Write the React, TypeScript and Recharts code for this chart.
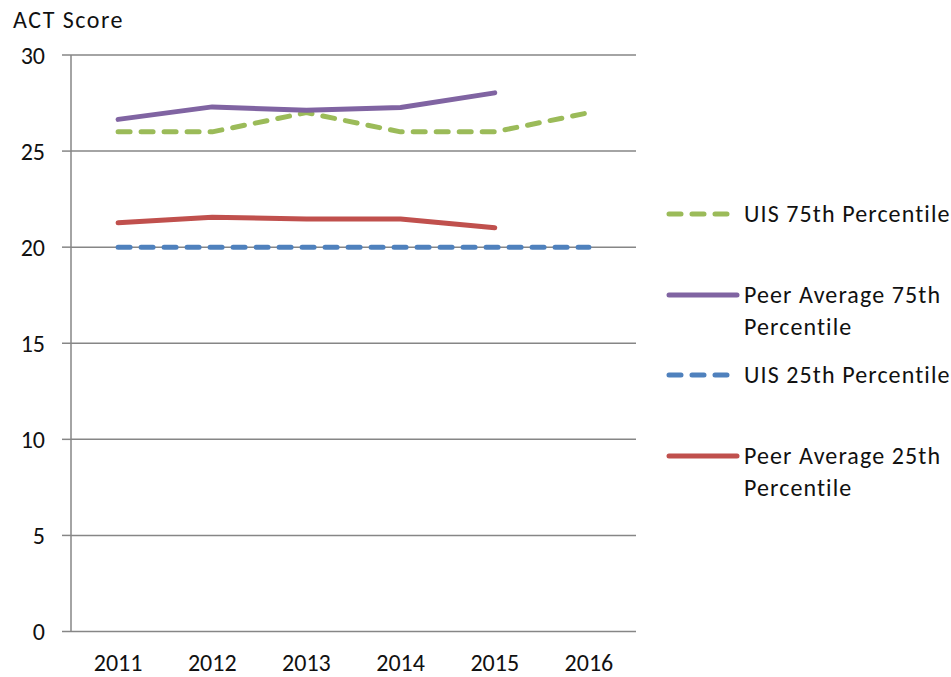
import React from 'react';
import { LineChart, Line, XAxis, YAxis, CartesianGrid } from 'recharts';

const years = ['2011', '2012', '2013', '2014', '2015', '2016'];
const uis75 = [26, 26, 27, 26, 26, 27];
const peer75 = [26.65, 27.3, 27.12, 27.27, 28.03, null];
const uis25 = [20, 20, 20, 20, 20, 20];
const peer25 = [21.27, 21.56, 21.47, 21.47, 21.01, null];
const yTicks = [0, 5, 10, 15, 20, 25, 30];
const bandEdges = [0, 1, 2, 3, 4, 5, 6];

const FONT = 'Carlito, Calibri, Lato, "Open Sans", sans-serif';
const GRID = '#868686';

const series = [
  { key: 'uis75', name: 'UIS 75th Percentile', color: '#9BBB59', dash: '12 11', lines: ['UIS 75th Percentile'] },
  { key: 'peer75', name: 'Peer Average 75th Percentile', color: '#8064A2', dash: undefined, lines: ['Peer Average 75th', 'Percentile'] },
  { key: 'uis25', name: 'UIS 25th Percentile', color: '#4F81BD', dash: '12 11', lines: ['UIS 25th Percentile'] },
  { key: 'peer25', name: 'Peer Average 25th Percentile', color: '#C0504D', dash: undefined, lines: ['Peer Average 25th', 'Percentile'] },
];

// numeric x so the tick marks can sit between the categories, like Excel does
const data = years.map((year, i) => ({
  x: i + 0.5,
  year,
  uis75: uis75[i],
  peer75: peer75[i],
  uis25: uis25[i],
  peer25: peer25[i],
}));

const tickStyle = { fontSize: 24, fill: '#111', fontFamily: FONT };

export default function App() {
  return (
    <div style={{ padding: 8, width: 935, height: 669, fontFamily: FONT }}>
      {/* drop the body margin so the legend can run out to the window edge */}
      <style>{'body { margin: 0; }'}</style>
      <div style={{ position: 'relative', width: 935, height: 669 }}>
        <div style={{ position: 'absolute', left: 5, top: 0, fontSize: 24, color: '#111', lineHeight: '24px', letterSpacing: 1.5 }}>
          ACT Score
        </div>
        <LineChart
          width={935}
          height={669}
          data={data}
          margin={{ top: 47, right: 307, bottom: 8.5, left: 0 }}
        >
          <CartesianGrid horizontal vertical={false} stroke={GRID} strokeWidth={1.5} />
          <XAxis
            xAxisId="edges"
            dataKey="x"
            type="number"
            domain={[0, 6]}
            ticks={bandEdges}
            tickFormatter={() => ''}
            stroke={GRID}
            strokeWidth={1.5}
            tickSize={8}
            height={0}
            allowDataOverflow
          />
          <XAxis
            xAxisId="labels"
            dataKey="x"
            type="number"
            domain={[0, 6]}
            ticks={data.map(d => d.x)}
            tickFormatter={(v: number) => years[Math.round(v - 0.5)]}
            axisLine={false}
            tickLine={false}
            tickSize={0}
            tickMargin={22}
            tick={tickStyle}
            height={37}
          />
          <YAxis
            domain={[0, 30]}
            ticks={yTicks}
            width={63}
            stroke={GRID}
            strokeWidth={1.5}
            tickSize={9}
            tickMargin={17}
            tick={tickStyle}
            interval={0}
          />
          {series.map(s => (
            <Line
              key={s.key}
              xAxisId="labels"
              dataKey={s.key}
              name={s.name}
              stroke={s.color}
              strokeWidth={5}
              strokeDasharray={s.dash}
              strokeLinecap="round"
              strokeLinejoin="round"
              dot={false}
              activeDot={false}
              connectNulls={false}
              isAnimationActive={false}
            />
          ))}
        </LineChart>
        <div style={{ position: 'absolute', left: 658, top: 190 }}>
          {series.map(s => (
            <div key={s.key} style={{ position: 'relative', height: 80.5 }}>
              <svg width={76} height={32} style={{ position: 'absolute', left: 0, top: 0 }}>
                <line
                  x1={3}
                  x2={71}
                  y1={16}
                  y2={16}
                  stroke={s.color}
                  strokeWidth={5}
                  strokeLinecap="round"
                  strokeDasharray={s.dash ? '12 11' : undefined}
                />
              </svg>
              <div style={{ position: 'absolute', left: 78, top: 0, fontSize: 24, lineHeight: '32px', color: '#111', whiteSpace: 'nowrap', letterSpacing: 1.1 }}>
                {s.lines.map(l => (
                  <div key={l}>{l}</div>
                ))}
              </div>
            </div>
          ))}
        </div>
      </div>
    </div>
  );
}
